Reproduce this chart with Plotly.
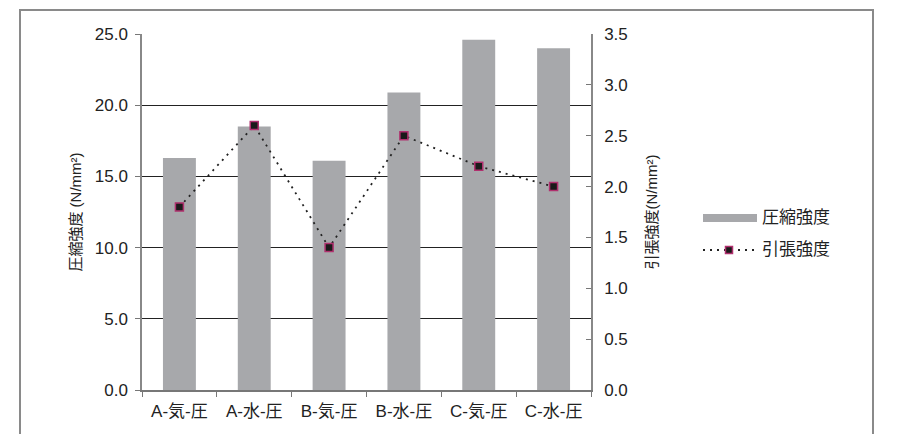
import plotly.graph_objects as go

categories = ["A-気-圧", "A-水-圧", "B-気-圧", "B-水-圧", "C-気-圧", "C-水-圧"]
compressive = [16.3, 18.5, 16.1, 20.9, 24.6, 24.0]   # 圧縮強度 (N/mm²)
tensile = [1.8, 2.6, 1.4, 2.5, 2.2, 2.0]             # 引張強度 (N/mm²)
left_ticks = [0, 5, 10, 15, 20, 25]
right_ticks = [0, 0.5, 1.0, 1.5, 2.0, 2.5, 3.0, 3.5]
series_names = ["圧縮強度", "引張強度"]

BAR = "#a7a8ab"
LINE = "#222222"
EDGE = "#b0306e"
DOTS = "2px,5px"
FONT = "Liberation Sans, Noto Sans CJK JP, sans-serif"

# plot area in pixels, used to place the legend and frame in paper units
L, R, T, B = 142, 591, 34, 390


def px(x):
    return (x - L) / (R - L)


def py(y):
    return (B - y) / (B - T)


fig = go.Figure()

fig.add_trace(go.Bar(
    x=categories, y=compressive, name=series_names[0],
    marker=dict(color=BAR, line=dict(width=0)),
    showlegend=False,
))
fig.add_trace(go.Scatter(
    x=categories, y=tensile, name=series_names[1], yaxis="y2",
    mode="lines+markers",
    line=dict(color=LINE, width=1.8, dash=DOTS),
    marker=dict(symbol="square", size=8, color="#1a1a1a",
                line=dict(color=EDGE, width=1.5)),
    showlegend=False,
))

shapes = [
    # outer frame
    dict(type="rect", xref="paper", yref="paper",
         x0=px(20), x1=px(873), y0=py(470), y1=py(10),
         line=dict(color="#8a8a8a", width=2), fillcolor="rgba(0,0,0,0)",
         layer="below"),
    # legend key: bar band
    dict(type="rect", xref="paper", yref="paper",
         x0=px(703), x1=px(757), y0=py(222), y1=py(214),
         line=dict(width=0), fillcolor=BAR),
    # legend key: dotted line with square marker
    dict(type="line", xref="paper", yref="paper",
         x0=px(703), x1=px(756), y0=py(250), y1=py(250),
         line=dict(color=LINE, width=1.8, dash=DOTS)),
    dict(type="rect", xref="paper", yref="paper",
         x0=px(725.5), x1=px(732.5), y0=py(253.5), y1=py(246.5),
         line=dict(color=EDGE, width=1.5), fillcolor="#1a1a1a"),
]

annotations = [
    dict(text=series_names[0], xref="paper", yref="paper",
         x=px(760), y=py(218), xanchor="left", yanchor="middle",
         showarrow=False, font=dict(size=17)),
    dict(text=series_names[1], xref="paper", yref="paper",
         x=px(760), y=py(250), xanchor="left", yanchor="middle",
         showarrow=False, font=dict(size=17)),
]

fig.update_layout(
    width=909, height=434,
    margin=dict(l=L, r=909 - R, t=T, b=434 - B),
    paper_bgcolor="white", plot_bgcolor="white",
    font=dict(family=FONT, size=17, color="#222222"),
    bargap=0.56,
    showlegend=False,
    xaxis=dict(
        type="category", showgrid=False, showline=True,
        linecolor="#777777", linewidth=1.5,
        ticks="outside", ticklen=5, tickcolor="#777777",
        tickson="boundaries", tickfont=dict(size=17),
        ticklabelstandoff=5,
    ),
    yaxis=dict(
        range=[0, 25], tickvals=left_ticks, tickformat=".1f",
        showgrid=True, gridcolor="#222222", gridwidth=1,
        showline=True, linecolor="#888888", linewidth=1.5,
        ticks="outside", ticklen=5, tickcolor="#777777",
        zeroline=False, ticklabelstandoff=4,
        title=dict(text="圧縮強度 (N/mm²)", standoff=10,
                   font=dict(size=15)),
    ),
    yaxis2=dict(
        range=[0, 3.5], tickvals=right_ticks, tickformat=".1f",
        overlaying="y", side="right", showgrid=False,
        showline=True, linecolor="#888888", linewidth=1.5,
        ticks="inside", ticklen=5, tickcolor="#777777",
        zeroline=False, ticklabelstandoff=8,
        title=dict(text="引張強度(N/mm²)", standoff=20,
                   font=dict(size=15)),
    ),
    shapes=shapes,
    annotations=annotations,
)

fig.write_html("out.html")
